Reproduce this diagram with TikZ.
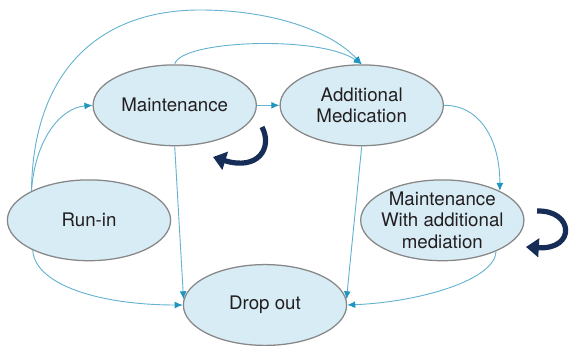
\documentclass[tikz,border=0pt]{standalone}
\usepackage{fontspec}
\setmainfont{TeX Gyre Heros}
\usetikzlibrary{arrows.meta,shapes.geometric}
\definecolor{stateFill}{RGB}{216,236,246}
\definecolor{stateBorder}{RGB}{135,135,135}
\definecolor{linkBlue}{RGB}{100,178,208}
\definecolor{tipTeal}{RGB}{30,150,192}
\definecolor{loopNavy}{RGB}{22,45,88}
\definecolor{textGray}{RGB}{35,31,32}

\begin{document}
\begin{tikzpicture}[
  x=0.025cm, y=-0.025cm,
  every node/.style={align=center, font=\fontsize{13.3}{15.4}\selectfont, text=textGray},
  state/.style={ellipse, draw=stateBorder, fill=stateFill, line width=0.9pt,
    minimum width=4.08cm, minimum height=2.02cm, inner sep=-5pt},
  link/.style={-{Latex[length=0.2cm, width=0.17cm, color=tipTeal]}, line width=0.65pt, draw=linkBlue},
  selfloop/.style={-{Triangle[length=0.32cm, width=0.46cm]}, line width=0.13cm, draw=loopNavy}
]
\useasboundingbox (0,0) rectangle (569,346);

% - states -
\node[state] (maint) at (174.7,105.3) {Maintenance};
\node[state] (addmed) at (361.7,105.3) {Additional\\Medication};
\node[state] (runin) at (89,220.3) {Run-in};
\node[state] (maintadd) at (442.3,220.3) {Maintenance\\With additional\\mediation};
\node[state] (dropout) at (265,305) {Drop out};

% - transitions -
\draw[link] (runin.153) .. controls (35,140) and (60,108) .. (maint.west);
\draw[link] (runin.153) .. controls (33,70) and (100,10) .. (200,10)
  .. controls (270,10) and (330,30) .. (addmed.north);
\draw[link] (maint.north) .. controls (180,40) and (320,35) .. (addmed.north);
\draw[link] (maint.east) -- (addmed.west);
\draw[link] (maint.south) -- (dropout.176);
\draw[link] (runin.208) .. controls (35,285) and (100,305) .. (dropout.180);
\draw[link] (addmed.south) -- (dropout.4);
\draw[link] (addmed.east) .. controls (480,105) and (500,140) .. (maintadd.27);
\draw[link] (maintadd.-30) .. controls (495,280) and (420,302) .. (dropout.0);

% - stay in state -
\coordinate (maintloopS) at (262,127);
\coordinate (maintloopE) at (213,157);
\coordinate (addloopS) at (537,211);
\coordinate (addloopE) at (526,247);
\draw[selfloop] (maintloopS) .. controls (273,148) and (258,171) .. (maintloopE);
\draw[selfloop] (addloopS) .. controls (574,210) and (576,250) .. (addloopE);

\end{tikzpicture}
\end{document}
